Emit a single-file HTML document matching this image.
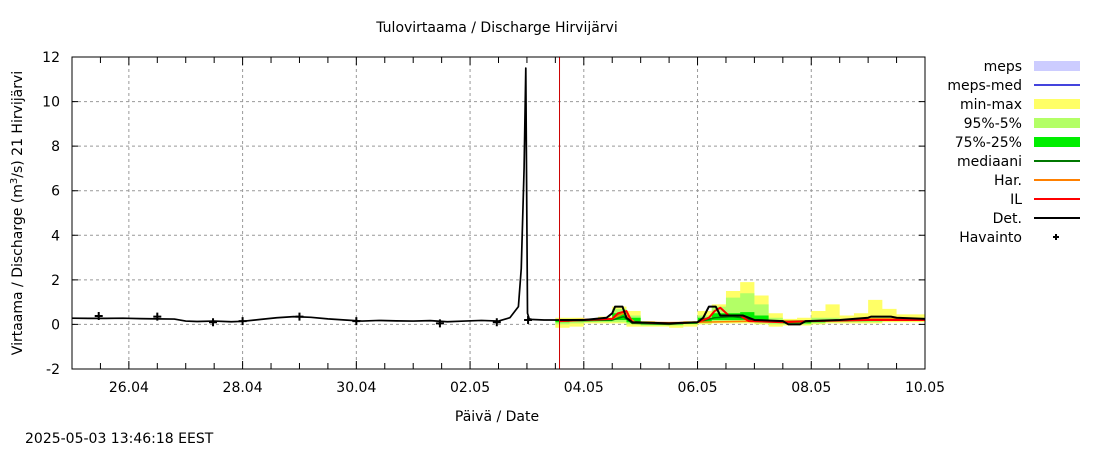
<!DOCTYPE html>
<html><head><meta charset="utf-8"><style>
body{margin:0;background:#fff;}
svg text{font-family:"DejaVu Sans","Liberation Sans",sans-serif;font-size:14px;fill:#000;}
</style></head><body>
<svg id="chart" width="1100" height="450">
<text x="497" y="32" text-anchor="middle">Tulovirtaama / Discharge  Hirvijärvi</text>
<text transform="translate(22,213) rotate(-90)" text-anchor="middle">Virtaama / Discharge (m<tspan dy="-5" font-size="10">3</tspan><tspan dy="5">/s)  21 Hirvijärvi</tspan></text>
<text x="497" y="421" text-anchor="middle">Päivä / Date</text>
<text x="25" y="443">2025-05-03 13:46:18 EEST</text>
<g id="grid"></g><g id="bands"></g><g id="lines"></g><g id="axes"></g><g id="legend"></g>
</svg>
<script>
const yTicks=[-2,0,2,4,6,8,10,12];
const xTickLabels=["26.04","28.04","30.04","02.05","04.05","06.05","08.05","10.05"];
const xTickDays=[1,3,5,7,9,11,13,15];
const obsDays=[0,0.3,0.6,0.9,1.2,1.5,1.8,2.0,2.2,2.5,2.8,3.0,3.3,3.6,3.9,4.2,4.5,4.8,5.1,5.4,5.7,6.0,6.3,6.6,6.9,7.2,7.5,7.7,7.85,7.9,7.95,7.98,8.01,8.04,8.1,8.3,8.57];
const obsVals=[0.28,0.27,0.27,0.28,0.26,0.25,0.24,0.15,0.13,0.15,0.12,0.14,0.22,0.3,0.35,0.32,0.25,0.2,0.15,0.18,0.16,0.15,0.17,0.12,0.15,0.18,0.15,0.3,0.8,2.5,7.0,11.5,0.5,0.25,0.22,0.2,0.2];
const havDays=[0.47,1.5,2.48,3.0,4.0,5.0,6.47,7.47,8.02];
const havVals=[0.38,0.35,0.1,0.15,0.35,0.15,0.05,0.1,0.2];
const fDays=[8.5,8.75,9,9.25,9.5,9.75,10,10.25,10.5,10.75,11,11.25,11.5,11.75,12,12.25,12.5,12.75,13,13.25,13.5,13.75,14,14.25,14.5,14.75,15];
const maxV=[.3,.3,.25,.35,.8,.6,.15,.1,.1,.15,.6,.9,1.5,1.9,1.3,.5,.25,.3,.6,.9,.4,.5,1.1,.7,.45,.45,.4];
const p95V=[.25,.25,.2,.3,.7,.4,.1,.05,.05,.1,.4,.8,1.2,1.4,.9,.3,.2,.2,.3,.3,.25,.3,.35,.35,.3,.3,.3];
const p75V=[.2,.22,.2,.25,.5,.3,.08,.05,.03,.05,.3,.5,.5,.55,.4,.2,.15,.15,.2,.2,.2,.25,.25,.25,.25,.25,.25];
const p25V=[.1,.15,.15,.15,.2,.1,0,0,0,.02,.1,.2,.2,.2,.15,.1,.05,.05,.1,.15,.15,.15,.15,.2,.2,.2,.2];
const p5V=[0,.05,.1,.1,.1,0,-.05,-.05,-.05,0,.05,.1,.1,.1,.05,0,0,0,.05,.1,.1,.1,.1,.15,.15,.15,.15];
const minV=[-.15,-.1,.05,.05,.05,-.1,-.1,-.1,-.15,-.1,0,.05,.05,.05,0,-.1,-.05,-.05,0,.05,.05,.05,.05,.1,.1,.1,.1];
const detDays=[8.57,9.0,9.4,9.5,9.55,9.68,9.75,9.85,10.5,11.0,11.1,11.2,11.32,11.4,11.8,12.0,12.5,12.6,12.8,12.9,13.5,14.0,14.05,14.4,14.5,15];
const detVals=[0.2,0.2,0.3,0.5,0.8,0.8,0.3,0.1,0.05,0.1,0.3,0.8,0.8,0.4,0.4,0.2,0.15,0.0,0.0,0.15,0.2,0.3,0.35,0.35,0.3,0.25];
const ilDays=[8.57,9.0,9.5,9.6,9.75,9.85,10.5,11.0,11.2,11.3,11.4,11.55,11.75,11.9,12.5,13,14,15];
const ilVals=[0.15,0.2,0.25,0.5,0.6,0.1,0.05,0.1,0.3,0.6,0.75,0.4,0.4,0.15,0.1,0.15,0.2,0.2];
const harDays=[8.57,9.5,9.7,9.8,9.9,10.5,11,12,13,14,15];
const harVals=[0.2,0.25,0.5,0.3,0.1,0.08,0.1,0.15,0.15,0.25,0.25];
const medDays=[8.57,9.5,9.7,9.85,10.5,11,11.3,11.6,11.8,12,13,14,15];
const medVals=[0.15,0.2,0.35,0.05,0.0,0.1,0.3,0.35,0.3,0.15,0.15,0.2,0.2];

const X0=72,X1=925,Y0=57,Y1=369,DAYS=15,YMIN=-2,YMAX=12;
const xs=d=>X0+Math.min(d,DAYS)*(X1-X0)/DAYS;
const ys=v=>Y1-(v-YMIN)*(Y1-Y0)/(YMAX-YMIN);
const NS="http://www.w3.org/2000/svg";
function mk(tag,parent,attrs){const e=document.createElementNS(NS,tag);for(const k in attrs)e.setAttribute(k,attrs[k]);document.getElementById(parent).appendChild(e);return e;}

yTicks.forEach(v=>{if(v===YMIN||v===YMAX)return;
 const g=mk('line','grid',{x1:X0,x2:X1,y1:ys(v),y2:ys(v),stroke:'#999','stroke-dasharray':'3,3'});
 
 });
xTickDays.forEach(d=>{if(d>=DAYS)return;
 const g=mk('line','grid',{x1:xs(d),x2:xs(d),y1:Y0,y2:Y1,stroke:'#999','stroke-dasharray':'3,3'});
 
 });

function stepBand(lo,hi,fill,name){
 let top='',bot=[];
 fDays.forEach((d,i)=>{const a=xs(d),b=xs(i+1<fDays.length?fDays[i+1]:d+0.25);
  top+=(i?'L':'M')+a+','+ys(hi[i])+'L'+b+','+ys(hi[i]);
  bot.unshift('L'+b+','+ys(lo[i])+'L'+a+','+ys(lo[i]));});
 const p=mk('path','bands',{d:top+bot.join('')+'Z',fill:fill});
 
 }
stepBand(minV,maxV,'#ffff66','min-max-band');
stepBand(p5V,p95V,'#b3ff66','p95-p5-band');
stepBand(p25V,p75V,'#00ee00','p75-p25-band');

function line(ds,vs,col,w,name){
 const pts=ds.map((d,i)=>xs(d)+','+ys(vs[i])).join(' ');
 const p=mk('polyline','lines',{points:pts,fill:'none',stroke:col,'stroke-width':w,'stroke-linejoin':'round'});
 
 }
line(medDays,medVals,'#007700',1.5,'median-line');
line(harDays,harVals,'#ff8000',1.5,'har-line');
line(ilDays,ilVals,'#ff0000',2,'il-line');
line(obsDays,obsVals,'#000',1.7,'observed-line');
line(detDays,detVals,'#000',2,'det-line');
havDays.forEach((d,i)=>{const x=xs(d),y=ys(havVals[i]);
 const p=mk('path','lines',{d:`M${x-4},${y}H${x+4}M${x},${y-4}V${y+4}`,stroke:'#000','stroke-width':2});
 
 });
const now=mk('line','lines',{x1:xs(8.573),x2:xs(8.573),y1:Y0,y2:Y1,stroke:'#cc0000','stroke-width':1});



const fr=mk('rect','axes',{x:X0,y:Y0,width:X1-X0,height:Y1-Y0,fill:'none',stroke:'#000','stroke-width':1});


yTicks.forEach(v=>{const y=ys(v);
 mk('path','axes',{d:`M${X0},${y}h6M${X1},${y}h-6`,stroke:'#000'});
 const t=mk('text','axes',{x:X0-12,y:y+5,'text-anchor':'end'});t.textContent=v;
 
 });
for(let d=0.5;d<DAYS;d+=0.5){const x=xs(d);const L=(Number.isInteger(d)&&d%2===1)?8:6;
 mk('path','axes',{d:`M${x},${Y1}v-${L}M${x},${Y0}v${L}`,stroke:'#000'});}
xTickDays.forEach((d,i)=>{const t=mk('text','axes',{x:xs(d),y:392,'text-anchor':'middle'});t.textContent=xTickLabels[i];
 
 });

const leg=[["meps","rect","#ccccff"],["meps-med","line","#4444dd"],["min-max","rect","#ffff66"],["95%-5%","rect","#b3ff66"],["75%-25%","rect","#00ee00"],["mediaani","line","#007700"],["Har.","line","#ff8000"],["IL","line","#ff0000"],["Det.","line","#000"],["Havainto","plus","#000"]];
leg.forEach((l,i)=>{const y=66+i*19;
 const t=mk('text','legend',{x:1022,y:y+5,'text-anchor':'end'});t.textContent=l[0];
 
 
 if(l[1]==='rect')mk('rect','legend',{x:1034,y:y-5,width:46,height:10,fill:l[2]});
 else if(l[1]==='line')mk('line','legend',{x1:1034,x2:1080,y1:y,y2:y,stroke:l[2],'stroke-width':2});
 else mk('path','legend',{d:`M${1053},${y}h6M${1056},${y-3}v6`,stroke:'#000','stroke-width':2});});
</script>
</body></html>
